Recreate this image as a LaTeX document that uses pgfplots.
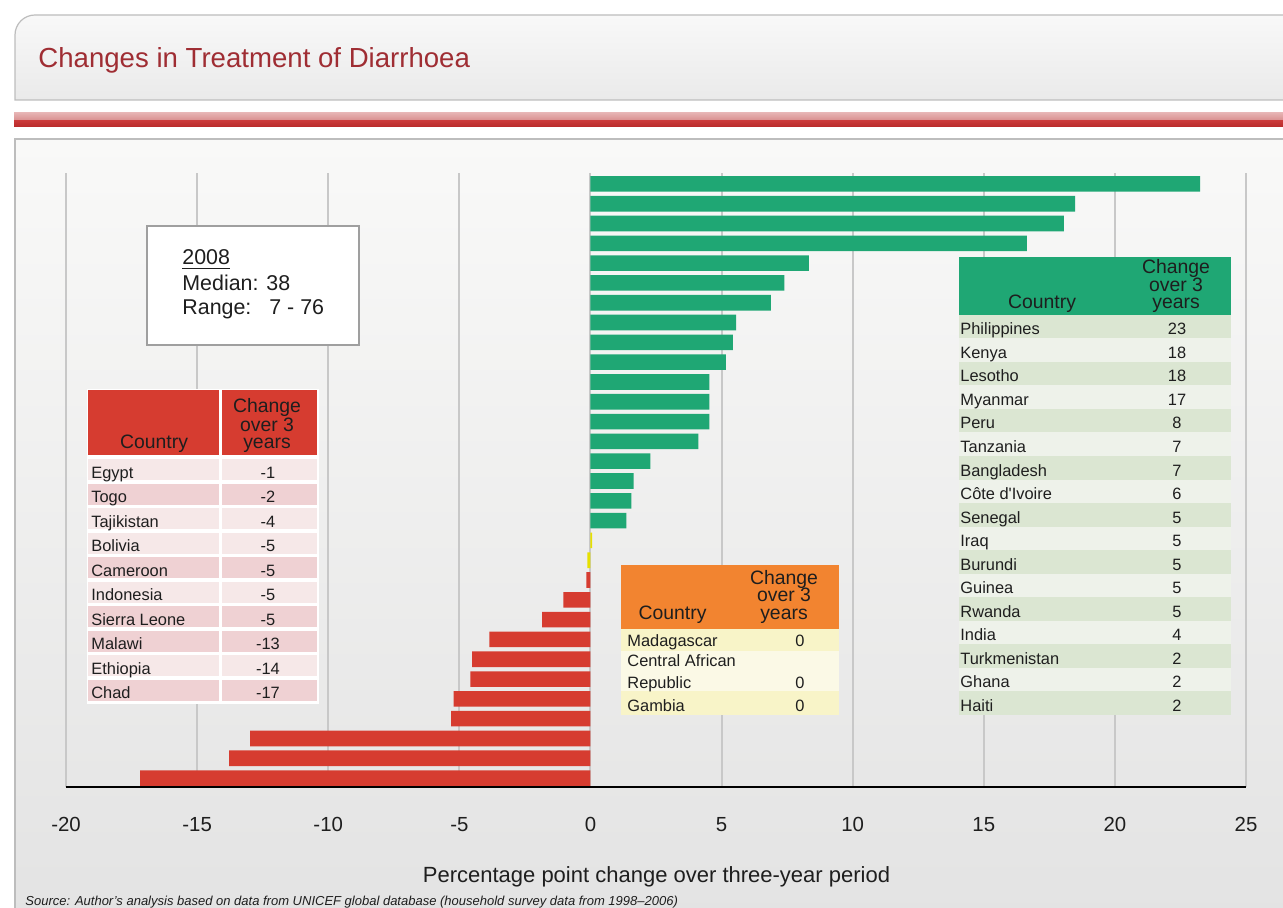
\documentclass[border=0pt]{standalone}
\usepackage{fontspec}
\setmainfont{Liberation Sans}
\usepackage{pgfplots}
\usepackage{pgfplotstable}
\pgfplotsset{compat=1.18}
\definecolor{barGreen}{HTML}{1FA774}
\definecolor{barRed}{HTML}{D63C30}
\definecolor{barYellow}{HTML}{E6E000}
\definecolor{titleRed}{HTML}{9F2D33}
\definecolor{gridGrey}{HTML}{C8C8C8}
\definecolor{hdrOrange}{HTML}{F28430}
\definecolor{rowGreenA}{HTML}{DBE6D2}
\definecolor{rowGreenB}{HTML}{EEF2EA}
\definecolor{rowRedA}{HTML}{F6E8E8}
\definecolor{rowRedB}{HTML}{EFD1D3}
\definecolor{rowYelA}{HTML}{F8F4C8}
\definecolor{rowYelB}{HTML}{FBF9E6}
\definecolor{txt}{HTML}{1E1E1E}
\definecolor{titleTop}{HTML}{F8F8F8}
\definecolor{titleBot}{HTML}{EAEAEA}
\definecolor{panelTop}{HTML}{F9F9F8}
\definecolor{panelBot}{HTML}{E3E3E3}
\definecolor{panelBorder}{HTML}{BDBDBD}
\definecolor{stripeA}{HTML}{E6B2B2}
\definecolor{stripeB}{HTML}{D88C8C}
\definecolor{stripeC}{HTML}{C93838}
\definecolor{stripeD}{HTML}{B82A2A}

\newcommand\rowfont{\fontsize{8.2}{9.5}\selectfont}
\newcommand\hdrfont{\fontsize{9.7}{8.8}\selectfont}

\pgfplotstableread{
y v
1 -17.17
2 -13.78
3 -12.98
4 -5.31
5 -5.22
6 -4.58
7 -4.51
8 -3.85
9 -1.84
10 -1.03
11 -0.16
}\redbars
\pgfplotstableread{
y v
12 -0.12
13 0.06
}\yellowbars
\pgfplotstableread{
y v
14 1.37
15 1.56
16 1.65
17 2.29
18 4.12
19 4.54
20 4.54
21 4.54
22 5.16
23 5.43
24 5.56
25 6.88
26 7.40
27 8.33
28 16.64
29 18.05
30 18.48
31 23.25
}\greenbars

\begin{document}
\begin{tikzpicture}
% ---------- background (coordinates in reference pixels) ----------
\begin{scope}[x=0.5pt,y=-0.5pt]
  \fill[white] (0,0) rectangle (1283,908);
  % title box
  \shade[top color=titleTop,bottom color=titleBot]
    (15,100) [rounded corners=10pt] -- (15,15) -- (1300,15) [sharp corners] -- (1300,100) -- cycle;
  \draw[panelBorder,line width=0.6pt]
    (1300,100) -- (15,100) [rounded corners=10pt] -- (15,15) -- (1300,15);
  \node[anchor=base west,inner sep=0pt,text=titleRed,font=\fontsize{13.8}{16}\selectfont]
    at (38,68) {Changes in Treatment of Diarrhoea};
  % red stripe
  \shade[top color=stripeA,bottom color=stripeB] (14,113) rectangle (1300,121);
  \shade[top color=stripeC,bottom color=stripeD] (14,121) rectangle (1300,127);
  % main panel
  \shade[top color=panelTop,bottom color=panelBot] (15,139) rectangle (1300,920);
  \draw[panelBorder,line width=0.6pt] (15,920) -- (15,139) -- (1300,139);
\end{scope}

% ---------- the chart ----------
\begin{axis}[
  at={(33pt,-393.5pt)}, anchor=south west,
  scale only axis, width=590pt, height=307pt,
  xmin=-20, xmax=25, ymin=0.55, ymax=31.55,
  axis x line*=bottom, axis y line=none,
  x axis line style={black,line width=1.2pt,-},
  xtick={-20,-15,-10,-5,0,5,10,15,20,25},
  xticklabels={-20,-15,-10,-5,0,5,10,15,20,25},
  ytick=\empty,
  major tick length=0pt,
  xmajorgrids,
  major grid style={gridGrey,line width=1pt},
  xticklabel style={font=\fontsize{10.2}{12}\selectfont,text=txt,anchor=base,yshift=-22.3pt},
  xbar,
]
\addplot[xbar,bar shift=0pt,bar width=7.8pt,fill=barRed,draw=none] table[x=v,y=y] {\redbars};
\addplot[xbar,bar shift=0pt,bar width=7.8pt,fill=barYellow,draw=none] table[x=v,y=y] {\yellowbars};
\addplot[xbar,bar shift=0pt,bar width=7.8pt,fill=barGreen,draw=none] table[x=v,y=y] {\greenbars};
\end{axis}

% ---------- overlays ----------
\begin{scope}[x=0.5pt,y=-0.5pt]
  % 2008 box
  \draw[fill=white,draw=gray!75,line width=0.6pt] (147,226) rectangle (359,345);
  \begin{scope}[every node/.style={anchor=base west,inner sep=0pt,text=txt,font=\fontsize{10.7}{12}\selectfont}]
    \node at (182,265) {\underline{2008}};
    \node at (182,290.5) {Median: 38};
    \node at (182,315) {Range:\hspace{9pt}7 - 76};
  \end{scope}

  % red table
  \fill[white] (87,389) rectangle (319,704);
  \fill[barRed] (88,390) rectangle (219,455);
  \fill[barRed] (222,390) rectangle (317,455);
  \node[anchor=base,inner sep=0pt,text=txt,font=\hdrfont] at (154,448) {Country};
  \node[anchor=base,inner sep=0pt,text=txt,font=\hdrfont] at (267,413) {Change};
  \node[anchor=base,inner sep=0pt,text=txt,font=\hdrfont] at (267,431) {over 3};
  \node[anchor=base,inner sep=0pt,text=txt,font=\hdrfont] at (267,448) {years};
  \foreach \n/\v/\c [count=\i from 0] in {Egypt/-1/rowRedA, Togo/-2/rowRedB, Tajikistan/-4/rowRedA, Bolivia/-5/rowRedA, Cameroon/-5/rowRedB, Indonesia/-5/rowRedA, Sierra Leone/-5/rowRedB, Malawi/-13/rowRedB, Ethiopia/-14/rowRedA, Chad/-17/rowRedB}{
    \pgfmathsetmacro\rt{459+\i*24.55}
    \fill[\c] (88,\rt) rectangle (219,\rt+21);
    \fill[\c] (222,\rt) rectangle (317,\rt+21);
    \node[anchor=base west,inner sep=0pt,text=txt,font=\rowfont] at (91,\rt+19) {\n};
    \node[anchor=base,inner sep=0pt,text=txt,font=\rowfont] at (268,\rt+19) {\v};
  }

  % orange table
  \fill[hdrOrange] (621,565) rectangle (839,629);
  \node[anchor=base,inner sep=0pt,text=txt,font=\hdrfont] at (672.5,619) {Country};
  \node[anchor=base,inner sep=0pt,text=txt,font=\hdrfont] at (784,584) {Change};
  \node[anchor=base,inner sep=0pt,text=txt,font=\hdrfont] at (784,601.5) {over 3};
  \node[anchor=base,inner sep=0pt,text=txt,font=\hdrfont] at (784,619) {years};
  \fill[rowYelA] (621,629) rectangle (839,651);
  \fill[rowYelB] (621,651) rectangle (839,691);
  \fill[rowYelA] (621,691) rectangle (839,715);
  \begin{scope}[every node/.style={inner sep=0pt,text=txt,font=\rowfont}]
    \node[anchor=base west] at (627,646) {Madagascar};
    \node[anchor=base] at (800,646) {0};
    \node[anchor=base west] at (627,666) {Central African};
    \node[anchor=base west] at (627,688) {Republic};
    \node[anchor=base] at (800,688) {0};
    \node[anchor=base west] at (627,711.5) {Gambia};
    \node[anchor=base] at (800,711.5) {0};
  \end{scope}

  % green table
  \fill[barGreen] (959,257) rectangle (1231,315);
  \node[anchor=base,inner sep=0pt,text=txt,font=\hdrfont] at (1042,309) {Country};
  \node[anchor=base,inner sep=0pt,text=txt,font=\hdrfont] at (1176,274) {Change};
  \node[anchor=base,inner sep=0pt,text=txt,font=\hdrfont] at (1176,291.5) {over 3};
  \node[anchor=base,inner sep=0pt,text=txt,font=\hdrfont] at (1176,309) {years};
  \foreach \n/\v [count=\i from 0] in {Philippines/23, Kenya/18, Lesotho/18, Myanmar/17, Peru/8, Tanzania/7, Bangladesh/7, C\^ote d\textquotesingle Ivoire/6, Senegal/5, Iraq/5, Burundi/5, Guinea/5, Rwanda/5, India/4, Turkmenistan/2, Ghana/2, Haiti/2}{
    \pgfmathsetmacro\rt{315+\i*23.5}
    \ifodd\i \def\rc{rowGreenB}\else\def\rc{rowGreenA}\fi
    \fill[\rc] (959,\rt) rectangle (1231,\rt+23.5);
    \node[anchor=base west,inner sep=0pt,text=txt,font=\rowfont] at (960,\rt+20) {\n};
    \node[anchor=base,inner sep=0pt,text=txt,font=\rowfont] at (1177,\rt+20) {\v};
  }

  % axis title and source
  \node[anchor=base,inner sep=0pt,text=txt,font=\fontsize{11}{13}\selectfont] at (656.5,882) {Percentage point change over three-year period};
  \node[anchor=base west,inner sep=0pt,text=txt,font=\fontsize{6.5}{8}\selectfont\itshape] at (25,905) {Source: Author's analysis based on data from UNICEF global database (household survey data from 1998--2006)};

  \pgfresetboundingbox
  \path[use as bounding box] (0,0) rectangle (1283,908);
\end{scope}
\end{tikzpicture}
\end{document}
